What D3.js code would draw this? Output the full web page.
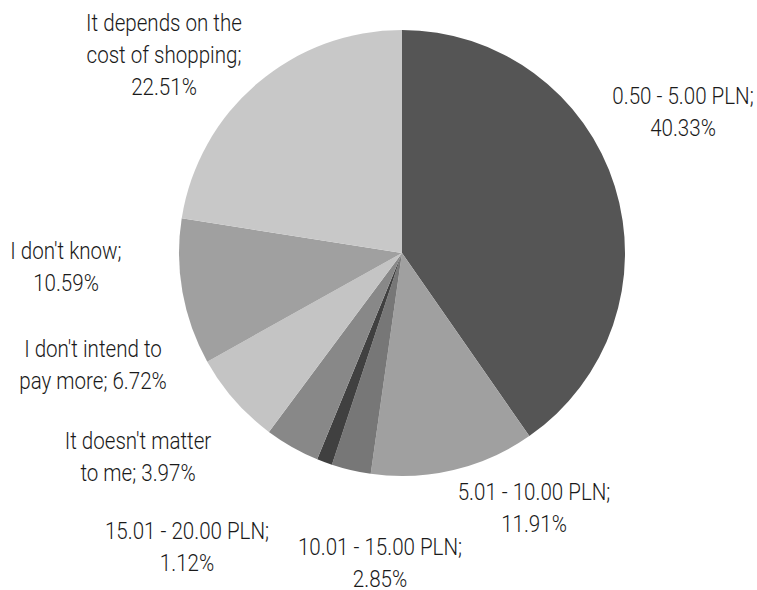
<!DOCTYPE html>
<html>
<head>
<meta charset="utf-8">
<script src="https://cdn.jsdelivr.net/npm/d3@7"></script>
<style>
  html, body { margin: 0; padding: 0; background: #fff; }
  svg text { font-family: Roboto, "Noto Sans", sans-serif; font-weight: 300; fill: #1a1a1a; }
</style>
</head>
<body>
<svg id="chart" width="757" height="590"></svg>
<script>
// Willingness to pay more, share of respondents
const categories = [
  "0.50 - 5.00 PLN",
  "5.01 - 10.00 PLN",
  "10.01 - 15.00 PLN",
  "15.01 - 20.00 PLN",
  "It doesn't matter to me",
  "I don't intend to pay more",
  "I don't know",
  "It depends on the cost of shopping"
];
const shares = [40.33, 11.91, 2.85, 1.12, 3.97, 6.72, 10.59, 22.51];
const sliceColors = ["#555555", "#a0a0a0", "#777777", "#404040", "#888888", "#c4c4c4", "#a0a0a0", "#c8c8c8"];

// Label text lines (the value is filled in where {v} appears)
const labelLines = [
  ["0.50 - 5.00 PLN;", "{v}"],
  ["5.01 - 10.00 PLN;", "{v}"],
  ["10.01 - 15.00 PLN;", "{v}"],
  ["15.01 - 20.00 PLN;", "{v}"],
  ["It doesn't matter", "to me; {v}"],
  ["I don't intend to", "pay more; {v}"],
  ["I don't know;", "{v}"],
  ["It depends on the", "cost of shopping;", "{v}"]
];
// Label anchor (centre x, baseline of first line)
const labelAnchors = [
  [683, 104], [534, 500], [380, 555], [187, 539],
  [138, 449], [93, 357], [66, 259], [164, 31]
];

const width = 757, height = 590;
const cx = 402, cy = 253, radius = 223;
const lineGap = 32;
const fontSize = 23.5, squeeze = 0.875;

const svg = d3.select("#chart");
const g = svg.append("g").attr("transform", `translate(${cx},${cy})`);

const data = categories.map((c, i) => ({ category: c, value: shares[i], color: sliceColors[i], i }));

const pie = d3.pie().value(d => d.value).sort(null);
const arc = d3.arc().innerRadius(0).outerRadius(radius);

g.selectAll("path.slice")
  .data(pie(data))
  .join("path")
  .attr("class", "slice")
  .attr("d", arc)
  .attr("fill", d => d.data.color);

const fmt = v => v.toFixed(2) + "%";

const labels = svg.append("g").attr("class", "labels");
data.forEach((d, i) => {
  const [x, y] = labelAnchors[i];
  const t = labels.append("text")
    .attr("text-anchor", "middle")
    .attr("font-size", fontSize)
    .attr("transform", `translate(${x},${y}) scale(${squeeze},1)`);
  labelLines[i].forEach((line, k) => {
    t.append("tspan")
      .attr("x", 0)
      .attr("y", k * lineGap)
      .text(line.replace("{v}", fmt(d.value)));
  });
});
</script>
</body>
</html>
